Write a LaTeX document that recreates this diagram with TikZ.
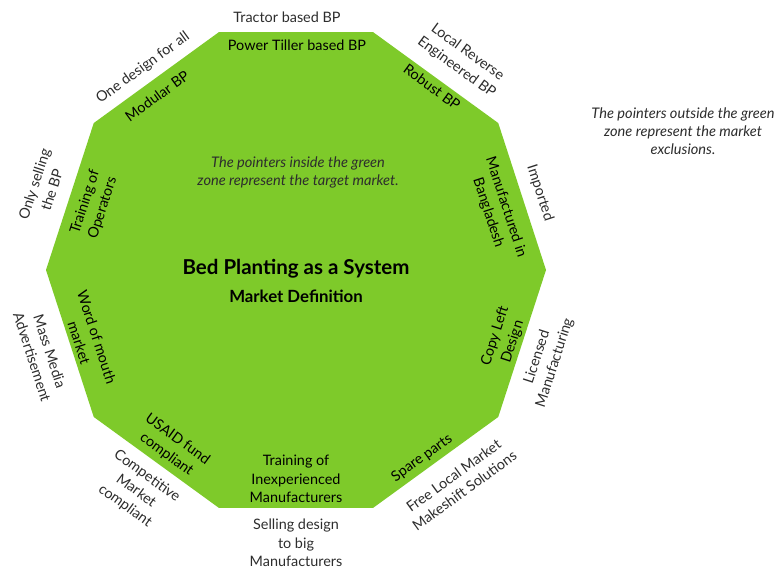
\documentclass[tikz,border=0pt]{standalone}
\usepackage{fontspec}
\setmainfont{Lato}
\definecolor{bpgreen}{RGB}{126,202,42}
\definecolor{outtext}{RGB}{45,45,45}
\tikzset{
  lbl/.style={align=center, inner sep=0pt, font=\fontsize{14.4}{18.5}\selectfont},
  inlbl/.style={lbl, text=black},
  outlbl/.style={lbl, text=outtext},
  note/.style={align=center, inner sep=0pt, text=outtext, font=\fontsize{14.6}{18}\selectfont\itshape},
}
\begin{document}
\begin{tikzpicture}[x=1pt,y=-1pt]
\fill[white] (0,0) rectangle (776,571);
\useasboundingbox (0,0) rectangle (776,571);
% decagon
\fill[bpgreen] (546,270) \foreach \a in {36,72,...,324} { -- ({296+250*cos(\a)},{270-250*sin(\a)}) } -- cycle;

% centre
\node[inner sep=0pt, font=\fontsize{20.5}{24}\selectfont\bfseries] (title) at (296,269) {Bed Planting as a System};
\node[inner sep=0pt, font=\fontsize{16.8}{20}\selectfont\bfseries] (sub) at (296,296) {Market Definition};
\node[note] (innote) at (298,172) {The pointers inside the green\\zone represent the target market.};
\node[note] (outnote) at (683,131) {The pointers outside the green\\zone represent the market\\exclusions.};

% inside labels
\node[inlbl] (i1) at (297,45) {Power Tiller based BP};
\node[inlbl, rotate=-36] (i2) at (432,87) {Robust BP};
\node[inlbl, rotate=-72] (i3) at (497,210) {Manufactured in\\Bangladesh};
\node[inlbl, rotate=72] (i4) at (504,339) {Copy Left\\Design};
\node[inlbl, rotate=36] (i5) at (422,458) {Spare parts};
\node[inlbl] (i6) at (296,479) {Training of\\Inexperienced\\Manufacturers};
\node[inlbl, rotate=-36] (i7) at (172,447) {USAID fund\\compliant};
\node[inlbl, rotate=-72] (i8) at (88,340) {Word of mouth\\market};
\node[inlbl, rotate=72] (i9) at (94,205) {Training of\\Operators};
\node[inlbl, rotate=36] (i10) at (157,96) {Modular BP};

% outside labels
\node[outlbl] (o1) at (287,17) {Tractor based BP};
\node[outlbl, rotate=-36] (o2) at (462,60) {Local Reverse\\Engineered BP};
\node[outlbl, rotate=-72] (o3) at (540,193) {Imported};
\node[outlbl, rotate=72] (o4) at (546,360) {Licensed\\Manufacturing};
\node[outlbl, rotate=36] (o5) at (459,483) {Free Local Market\\Makeshift Solutions};
\node[outlbl] (o6) at (296,543) {Selling design\\to big\\Manufacturers};
\node[outlbl, rotate=-36] (o7) at (136,491) {Competitive\\Market\\compliant};
\node[outlbl, rotate=-72] (o8) at (41,354) {Mass Media\\Advertisement};
\node[outlbl, rotate=72] (o9) at (43,187) {Only selling\\the BP};
\node[outlbl, rotate=36] (o10) at (143,68) {One design for all};
\end{tikzpicture}
\end{document}
